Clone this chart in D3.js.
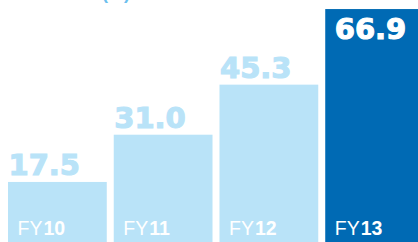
<!DOCTYPE html>
<html>
<head>
<meta charset="utf-8">
<script src="https://cdn.jsdelivr.net/npm/d3@7/dist/d3.min.js"></script>
<style>
    html, body { margin: 0; padding: 0; background: #fff; overflow: hidden; }
    svg { display: block; }
</style>
</head>
<body>
<svg id="chart"></svg>
<script>
// Data;
const years = ['10', '11', '12', '13'];
const values = [17.5, 31.0, 45.3, 66.9];
const highlight = [false, false, false, true];

const width = 418;
const height = 242;

const lightBlue = '#b9e3f8';
const darkBlue = '#006ab4';

const svg = d3.select('#chart')
    .attr('width', width)
    .attr('height', height);

// Scales;
const x = d3.scaleBand()
    .domain(years)
    .range([8, 424])
    .paddingInner(0.066)
    .paddingOuter(0);

const y = d3.scaleLinear()
    .domain([0, 70])
    .range([243.2, 243.2 - 70 * 3.5]);

// Unit label, cropped by the top edge as in the source image;
svg.append('text')
    .attr('x', 102)
    .attr('y', -1)
    .style('font-family', '"Liberation Sans", Arial, sans-serif')
    .style('font-size', '18px')
    .style('font-weight', 'bold')
    .style('fill', '#6cc0ee')
    .text('(%)');

const rows = years.map((yr, i) => ({ yr, v: values[i], hl: highlight[i] }));

// Bars;
svg.selectAll('.bar')
    .data(rows)
    .enter()
    .append('rect')
    .attr('class', 'bar')
    .attr('x', (d) => x(d.yr))
    .attr('y', (d) => y(d.v))
    .attr('width', x.bandwidth())
    .attr('height', (d) => height + 5 - y(d.v))
    .style('fill', (d) => (d.hl ? darkBlue : lightBlue));

// Value labels, above the bar or inside it for the highlighted one;
svg.selectAll('.value')
    .data(rows)
    .enter()
    .append('text')
    .attr('class', 'value')
    .attr('x', (d) => x(d.yr) + (d.hl ? 9.5 : 0.5))
    .attr('y', (d) => (d.hl ? y(d.v) + 29.5 : y(d.v) - 6.5))
    .style('font-family', '"DejaVu Sans", sans-serif')
    .style('font-size', '29px')
    .style('font-weight', 'bold')
    .style('fill', (d) => (d.hl ? '#ffffff' : lightBlue))
    .style('stroke', (d) => (d.hl ? '#ffffff' : lightBlue))
    .style('stroke-width', 1.1)
    .text((d) => d.v.toFixed(1));

// Year labels;
const fy = svg.selectAll('.fy')
    .data(rows)
    .enter()
    .append('text')
    .attr('class', 'fy')
    .attr('x', (d) => x(d.yr) + 9.5)
    .attr('y', 235.3)
    .style('font-family', '"Liberation Sans", Arial, sans-serif')
    .style('font-size', '19.5px')
    .style('fill', '#ffffff');

fy.append('tspan').text('FY');
fy.append('tspan')
    .style('font-weight', 'bold')
    .attr('dx', 1)
    .text((d) => d.yr);
</script>
</body>
</html>
